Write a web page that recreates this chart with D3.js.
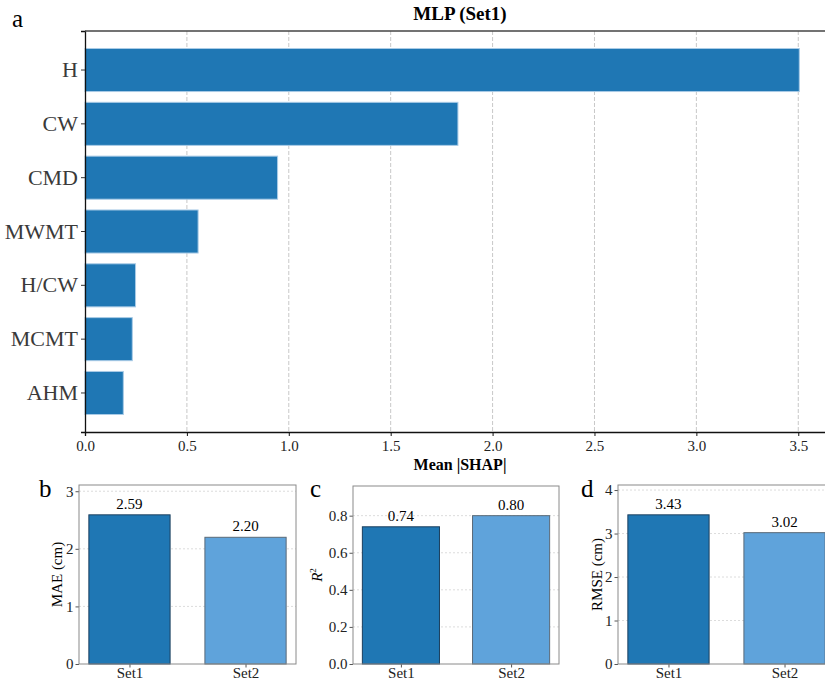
<!DOCTYPE html>
<html>
<head>
<meta charset="utf-8">
<script src="https://cdn.jsdelivr.net/npm/d3@7"></script>
<style>
  body { margin: 0; background: #fff; }
  text { font-family: "Liberation Serif", "Times New Roman", serif; }
</style>
</head>
<body>
<script>
// feature importance (top panel)
const features = ["H", "CW", "CMD", "MWMT", "H/CW", "MCMT", "AHM"];
const shapValues = [3.505, 1.83, 0.945, 0.555, 0.248, 0.232, 0.188];
const shapTicks = [0, 0.5, 1.0, 1.5, 2.0, 2.5, 3.0, 3.5];

// metric panels
const sets = ["Set1", "Set2"];
const maeValues = [2.59, 2.20];
const r2Values = [0.74, 0.80];
const rmseValues = [3.43, 3.02];
const maeTicks = [0, 1, 2, 3];
const r2Ticks = [0.0, 0.2, 0.4, 0.6, 0.8];
const rmseTicks = [0, 1, 2, 3, 4];
const setColors = ["#1f77b4", "#5fa3db"];

let svg = d3.select("body").append("svg")
  .attr("width", 825)
  .attr("height", 682);

// ---------- panel a ----------
let box = {left: 85, right: 835, top: 31, bottom: 432};

let x = d3.scaleLinear()
  .domain([0, d3.max(shapValues) * 1.05])
  .range([box.left, box.right]);

let y = d3.scaleBand()
  .domain(features)
  .range([box.top, box.bottom])
  .paddingInner(0.2)
  .paddingOuter(0.325);

let ga = svg.append("g");

// dashed grid
ga.selectAll("line.grid")
  .data(shapTicks.filter(t => t > 0))
  .enter().append("line")
  .attr("x1", d => x(d)).attr("x2", d => x(d))
  .attr("y1", box.top).attr("y2", box.bottom)
  .attr("stroke", "#c8c8c8")
  .attr("stroke-width", 1)
  .attr("stroke-dasharray", "4,2");

ga.selectAll("rect")
  .data(features)
  .enter().append("rect")
  .attr("x", x(0))
  .attr("y", d => y(d))
  .attr("width", (d, i) => x(shapValues[i]) - x(0))
  .attr("height", y.bandwidth())
  .attr("fill", "#1f77b4")
  .attr("stroke", "#a9cbe6")
  .attr("stroke-width", 1);

// x axis
let xAxis = d3.axisBottom(x)
  .tickValues(shapTicks)
  .tickFormat(d3.format(".1f"))
  .tickSize(4)
  .tickPadding(4);

let xG = ga.append("g")
  .attr("transform", `translate(0, ${box.bottom})`)
  .call(xAxis);
xG.select(".domain").attr("stroke", "#111").attr("stroke-width", 1.3);
xG.selectAll(".tick line").attr("stroke", "#111");
xG.selectAll("text")
  .attr("font-size", 15)
  .attr("fill", "#222");

// y axis
let yAxis = d3.axisLeft(y).tickSize(4).tickPadding(3);
let yG = ga.append("g")
  .attr("transform", `translate(${box.left}, 0)`)
  .call(yAxis);
yG.select(".domain").attr("stroke", "#111").attr("stroke-width", 1.3);
yG.selectAll(".tick line").attr("stroke", "#333");
yG.selectAll("text")
  .attr("font-size", 22)
  .attr("fill", "#3a3a3a");

// top spine
ga.append("line")
  .attr("x1", box.left).attr("x2", box.right)
  .attr("y1", box.top).attr("y2", box.top)
  .attr("stroke", "#444").attr("stroke-width", 1.3);

ga.append("text")
  .text("MLP (Set1)")
  .attr("x", (box.left + box.right) / 2)
  .attr("y", 20)
  .attr("text-anchor", "middle")
  .attr("font-weight", "bold")
  .attr("font-size", 19);

ga.append("text")
  .text("Mean |SHAP|")
  .attr("x", (box.left + box.right) / 2)
  .attr("y", 470)
  .attr("text-anchor", "middle")
  .attr("font-weight", "bold")
  .attr("font-size", 16);

svg.append("text").text("a")
  .attr("x", 12).attr("y", 27).attr("font-size", 25);

// ---------- panels b, c, d ----------
function metricPanel(opts) {
  let g = svg.append("g");
  let sx = d3.scaleLinear().domain([-0.435, 1.435]).range([opts.left, opts.right]);
  let sy = d3.scaleLinear().domain([0, d3.max(opts.values) * 1.2]).range([opts.bottom, opts.top]);

  g.selectAll("line.grid")
    .data(opts.ticks.filter(t => t > 0))
    .enter().append("line")
    .attr("x1", opts.left).attr("x2", opts.right)
    .attr("y1", d => sy(d)).attr("y2", d => sy(d))
    .attr("stroke", "#dcdcdc")
    .attr("stroke-dasharray", "2,2");

  g.selectAll("rect")
    .data(opts.values)
    .enter().append("rect")
    .attr("x", (d, i) => sx(i - 0.35))
    .attr("width", sx(0.35) - sx(-0.35))
    .attr("y", d => sy(d))
    .attr("height", d => sy(0) - sy(d))
    .attr("fill", (d, i) => setColors[i])
    .attr("stroke", (d, i) => i == 0 ? "#1b3f5e" : "#5a6a78")
    .attr("stroke-width", 1);

  g.selectAll("text.val")
    .data(opts.values)
    .enter().append("text")
    .text(d => d.toFixed(2))
    .attr("x", (d, i) => sx(i))
    .attr("y", d => sy(d) - 6)
    .attr("text-anchor", "middle")
    .attr("font-size", 15);

  let ya = g.append("g")
    .attr("transform", `translate(${opts.left}, 0)`)
    .call(d3.axisLeft(sy).tickValues(opts.ticks).tickFormat(opts.fmt).tickSize(3.5).tickPadding(2));
  ya.select(".domain").remove();
  ya.selectAll(".tick line").attr("stroke", "#555");
  ya.selectAll("text").attr("font-size", 15).attr("fill", "#222");

  let xa = g.append("g")
    .attr("transform", `translate(0, ${opts.bottom})`)
    .call(d3.axisBottom(sx).tickValues([0, 1]).tickFormat(i => sets[i]).tickSize(3.5).tickPadding(0));
  xa.select(".domain").remove();
  xa.selectAll(".tick line").attr("stroke", "#555");
  xa.selectAll("text").attr("font-size", 15).attr("fill", "#222");

  // frame
  g.append("rect")
    .attr("x", opts.left).attr("y", opts.top)
    .attr("width", opts.right - opts.left)
    .attr("height", opts.bottom - opts.top)
    .attr("fill", "none")
    .attr("stroke", "#8a8a8a")
    .attr("stroke-width", 1);

  let lab = g.append("text")
    .attr("transform", `translate(${opts.labelX}, ${(opts.top + opts.bottom) / 2}) rotate(-90)`)
    .attr("text-anchor", "middle")
    .attr("font-size", 15);
  opts.label(lab);

  svg.append("text").text(opts.letter)
    .attr("x", opts.letterX).attr("y", 497).attr("font-size", 25);
}

metricPanel({
  left: 79, right: 296, top: 485, bottom: 664,
  values: maeValues, ticks: maeTicks, fmt: d3.format("d"),
  labelX: 62, label: t => t.text("MAE (cm)"),
  letter: "b", letterX: 39
});

metricPanel({
  left: 353, right: 559, top: 486, bottom: 664,
  values: r2Values, ticks: r2Ticks, fmt: d3.format(".1f"),
  labelX: 322,
  label: t => {
    t.append("tspan").text("R").attr("font-style", "italic");
    t.append("tspan").text("2").attr("font-size", 9).attr("dy", -6);
  },
  letter: "c", letterX: 310
});

metricPanel({
  left: 618, right: 835, top: 485, bottom: 664,
  values: rmseValues, ticks: rmseTicks, fmt: d3.format("d"),
  labelX: 602, label: t => t.text("RMSE (cm)"),
  letter: "d", letterX: 581
});
</script>
</body>
</html>
